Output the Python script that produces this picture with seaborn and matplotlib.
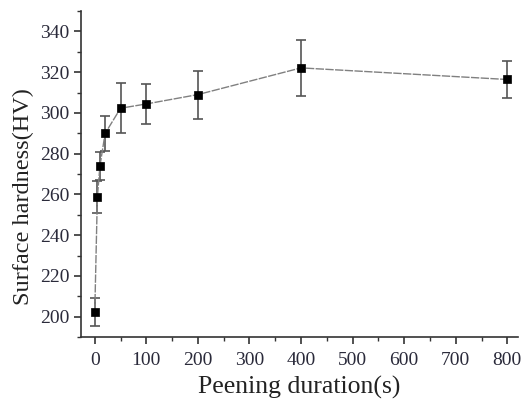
import matplotlib
matplotlib.use("Agg")
import matplotlib.pyplot as plt
from matplotlib.ticker import MultipleLocator
import seaborn as sns
import pandas as pd

# Peening duration (s), surface hardness (HV) and its standard deviation
duration = [0, 5, 10, 20, 50, 100, 200, 400, 800]
hardness = [202.3, 258.7, 273.9, 289.9, 302.3, 304.4, 309.0, 322.1, 316.4]
hardness_err = [6.7, 8.0, 7.0, 8.5, 12.3, 9.7, 11.8, 13.7, 9.1]

df = pd.DataFrame({"duration": duration, "hardness": hardness, "err": hardness_err})

sns.set_theme(style="ticks")
plt.rcParams["font.family"] = ["Liberation Serif", "DejaVu Serif"]

fig = plt.figure(figsize=(5.25, 4.09), dpi=100)
ax = fig.add_axes([0.154, 0.176, 0.833, 0.797])

ax.errorbar(df["duration"], df["hardness"], yerr=df["err"], fmt="none",
            ecolor="#555555", elinewidth=1.2, capsize=3.5, capthick=1.2, zorder=2)
sns.lineplot(data=df, x="duration", y="hardness", ax=ax, color="#808080",
             linewidth=1.0, linestyle=(0, (6, 1)), zorder=3)
sns.scatterplot(data=df, x="duration", y="hardness", ax=ax, marker="s",
                s=40, color="black", edgecolor="black", zorder=4)

ax.set_xlim(-27, 821)
ax.set_ylim(190, 350)
ax.xaxis.set_major_locator(MultipleLocator(100))
ax.xaxis.set_minor_locator(MultipleLocator(50))
ax.yaxis.set_major_locator(MultipleLocator(20))
ax.yaxis.set_minor_locator(MultipleLocator(10))
ax.set_yticks(range(200, 341, 20))

ax.tick_params(axis="both", which="major", direction="out", length=5, width=1.2,
               color="#333333", labelsize=14, labelcolor="#2a2a3a", pad=3)
ax.tick_params(axis="both", which="minor", direction="out", length=3, width=1.0,
               color="#333333")
ax.tick_params(axis="x", pad=6)

for side in ("top", "right"):
    ax.spines[side].set_visible(False)
for side in ("left", "bottom"):
    ax.spines[side].set_linewidth(1.2)
    ax.spines[side].set_color("#333333")

ax.set_xlabel("Peening duration(s)", fontsize=18.5, color="#222222", labelpad=5)
ax.set_ylabel("Surface hardness(HV)", fontsize=17.5, color="#222222", labelpad=5)
ax.yaxis.set_label_coords(-0.106, 0.43)

fig.savefig("out.png", dpi=100, facecolor="white")
